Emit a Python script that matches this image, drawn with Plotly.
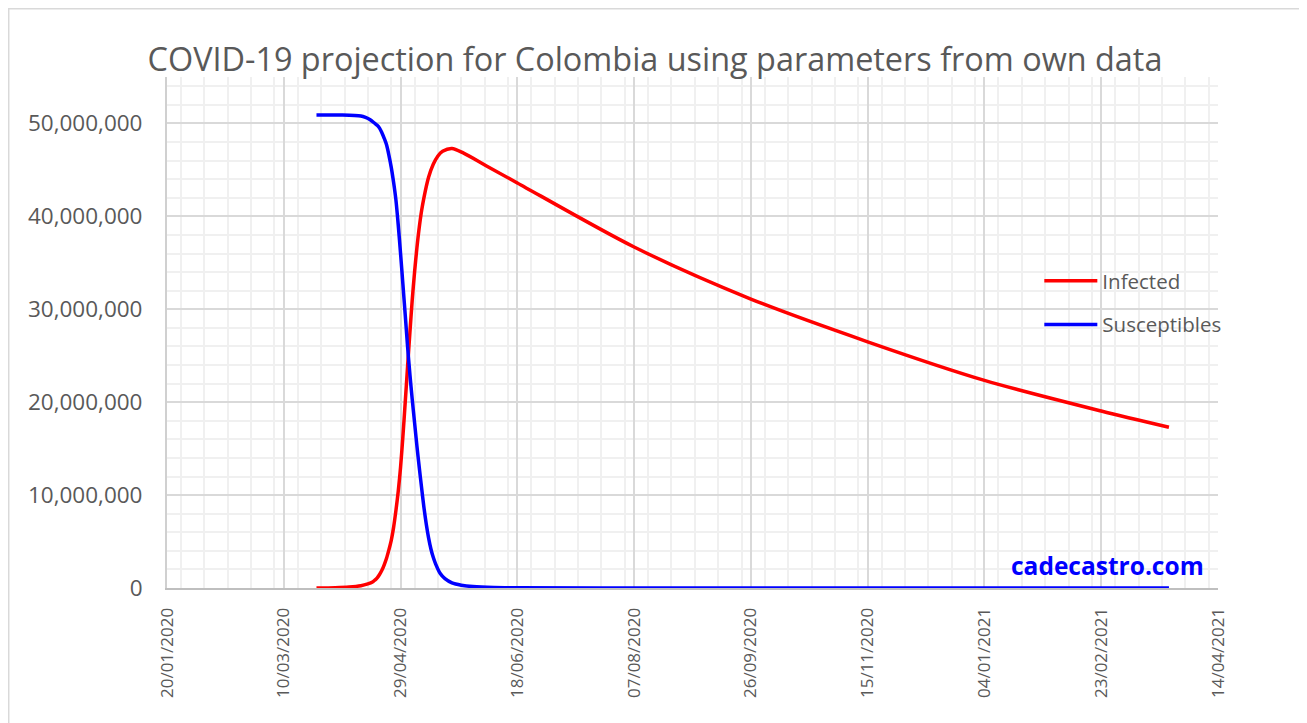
import plotly.graph_objects as go

# values (millions of people)
inf_dates = ["2020-03-24", "2020-04-01", "2020-04-07", "2020-04-12", "2020-04-15",
             "2020-04-17", "2020-04-18", "2020-04-19", "2020-04-20", "2020-04-21",
             "2020-04-22", "2020-04-23", "2020-04-24", "2020-04-25", "2020-04-26",
             "2020-04-27", "2020-04-28", "2020-04-29", "2020-04-30", "2020-05-01",
             "2020-05-02", "2020-05-03", "2020-05-04", "2020-05-05", "2020-05-06",
             "2020-05-07", "2020-05-08", "2020-05-09", "2020-05-11", "2020-05-13",
             "2020-05-15", "2020-05-17", "2020-05-21", "2020-05-26", "2020-06-05",
             "2020-06-18", "2020-08-07", "2020-09-26", "2020-11-15", "2021-01-04",
             "2021-02-23", "2021-03-24"]
infected = [0.0, 0.03, 0.1, 0.25, 0.45,
            0.65, 0.85, 1.1, 1.45, 1.9,
            2.5, 3.2, 4.1, 5.1, 6.5,
            8.3, 10.4, 13.0, 16.3, 20.0,
            23.8, 27.5, 31.0, 34.0, 36.6,
            38.8, 40.6, 42.0, 44.2, 45.6,
            46.5, 47.0, 47.3, 46.8, 45.4,
            43.6, 36.7, 31.1, 26.5, 22.35,
            19.05, 17.3]

sus_dates = ["2020-03-24", "2020-04-04", "2020-04-12", "2020-04-14", "2020-04-16",
             "2020-04-18", "2020-04-19", "2020-04-20", "2020-04-21", "2020-04-22",
             "2020-04-23", "2020-04-24", "2020-04-25", "2020-04-26", "2020-04-27",
             "2020-04-28", "2020-04-29", "2020-04-30", "2020-05-01", "2020-05-02",
             "2020-05-03", "2020-05-04", "2020-05-05", "2020-05-06", "2020-05-07",
             "2020-05-08", "2020-05-09", "2020-05-10", "2020-05-11", "2020-05-12",
             "2020-05-13", "2020-05-14", "2020-05-16", "2020-05-18", "2020-05-21",
             "2020-05-25", "2020-05-30", "2020-06-08", "2020-06-18", "2020-08-07",
             "2021-03-24"]
susceptibles = [50.9, 50.9, 50.8, 50.65, 50.4,
                50.0, 49.8, 49.5, 49.0, 48.4,
                47.7, 46.6, 45.3, 43.7, 41.8,
                39.1, 36.0, 32.7, 29.4, 26.0,
                23.0, 20.3, 17.8, 15.3, 13.0,
                10.8, 8.7, 6.9, 5.4, 4.2,
                3.3, 2.6, 1.55, 1.0, 0.55,
                0.3, 0.15, 0.05, 0.02, 0.0,
                0.0]

grey = "#595959"
font = "Open Sans"

fig = go.Figure()
fig.add_trace(go.Scatter(
    x=inf_dates, y=[v * 1e6 for v in infected], name="Infected",
    mode="lines", line=dict(color="#FF0000", width=3.5, shape="spline", smoothing=0.8),
    legendgroup="a"))
fig.add_trace(go.Scatter(
    x=sus_dates, y=[v * 1e6 for v in susceptibles], name="Susceptibles",
    mode="lines", line=dict(color="#0000FF", width=3.5, shape="spline", smoothing=0.8),
    legendgroup="b"))

# the page body adds 8px, so the margins are shifted by that much
fig.update_layout(
    width=1307, height=723,
    margin=dict(l=159, r=97, t=69, b=143),
    paper_bgcolor="white", plot_bgcolor="white",
    font=dict(family=font, color=grey),
    title=dict(text="COVID-19 projection for Colombia using parameters from own data",
               x=0.495, xanchor="center", y=0.928, yanchor="middle",
               font=dict(size=32.4, color=grey, family=font)),
    legend=dict(x=0.830, xanchor="left", y=0.64, yanchor="top",
                font=dict(size=20.5, color=grey), bgcolor="rgba(0,0,0,0)",
                itemwidth=53, traceorder="grouped", tracegroupgap=14),
    xaxis=dict(
        type="date", range=["2020-01-20", "2021-04-14"],
        tick0="2020-01-20", dtick=50 * 86400000, tickformat="%d/%m/%Y",
        tickangle=-90, tickfont=dict(size=17, color=grey),
        showgrid=True, gridcolor="#d9d9d9", gridwidth=1.5,
        minor=dict(dtick=10 * 86400000, showgrid=True, gridcolor="#f0f0f0", gridwidth=1.5),
        showline=True, linecolor="#bfbfbf", linewidth=2,
        zeroline=False, ticks="", ticklabelstandoff=11),
    yaxis=dict(
        range=[0, 55e6], dtick=10e6, tickformat=",d",
        tickfont=dict(size=22.5, color=grey),
        showgrid=True, gridcolor="#d9d9d9", gridwidth=1.5,
        minor=dict(dtick=2e6, showgrid=True, gridcolor="#f0f0f0", gridwidth=1.5),
        showline=True, linecolor="#d0d0d0", linewidth=2,
        zeroline=False, ticks="", ticklabelstandoff=18),
)

# watermark
fig.add_annotation(text="<b>cadecastro.com</b>", xref="paper", yref="paper",
                   x=0.9886, y=0.044, xanchor="right", yanchor="middle",
                   showarrow=False, font=dict(size=24.5, color="#0000FF", family=font))

# chart area border
fig.add_shape(type="rect", xref="paper", yref="paper",
              x0=-0.1506, x1=1.0823, y0=-0.3, y1=1.1336,
              line=dict(color="#d9d9d9", width=1.5), layer="below")

fig.write_html("out.html")
